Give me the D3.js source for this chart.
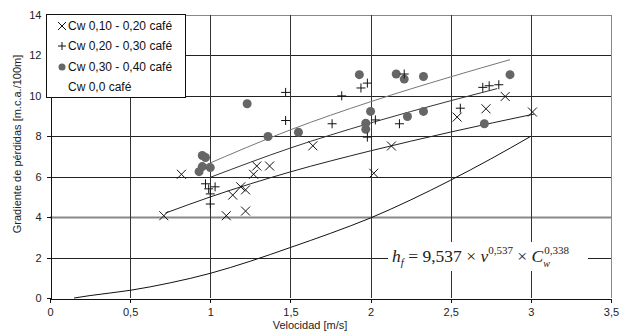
<!DOCTYPE html>
<html>
<head>
<meta charset="utf-8">
<script src="https://cdn.jsdelivr.net/npm/d3@7"></script>
<style>
body { margin: 0; background: #fff; }
svg { font-family: "Liberation Sans", Arial, sans-serif; }
.formula text { font-family: "Liberation Serif", "Times New Roman", serif; }
</style>
</head>
<body>
<div id="chart"></div>
<script>
// data
var cw1_v = [0.71, 0.82, 1.10, 1.14, 1.19, 1.22, 1.22, 1.27, 1.29, 1.37, 1.64, 2.02, 2.13, 2.54, 2.72, 2.84, 3.01];
var cw1_h = [4.07, 6.12, 4.07, 5.09, 5.50, 5.35, 4.30, 6.12, 6.53, 6.53, 7.53, 6.17, 7.52, 8.95, 9.36, 9.97, 9.20];

var cw2_v = [0.97, 0.99, 1.03, 1.00, 1.00, 1.47, 1.47, 1.76, 1.82, 1.94, 1.98, 2.03, 1.98, 2.18, 2.21, 2.56, 2.70, 2.74, 2.80];
var cw2_h = [5.65, 5.40, 5.50, 5.15, 4.65, 10.17, 8.78, 8.62, 10.00, 10.39, 10.63, 8.81, 7.96, 8.62, 11.08, 9.39, 10.42, 10.50, 10.55];

var cw3_v = [0.95, 0.97, 0.95, 0.93, 1.00, 1.23, 1.36, 1.55, 1.93, 2.00, 1.97, 1.97, 2.16, 2.21, 2.33, 2.23, 2.33, 2.71, 2.87];
var cw3_h = [7.05, 6.95, 6.50, 6.25, 6.45, 9.61, 7.99, 8.20, 11.05, 9.23, 8.65, 8.35, 11.08, 10.83, 10.96, 8.98, 9.23, 8.62, 11.05];

// fitted curves
var fit1_v = [0.72, 1.0, 1.5, 2.0, 2.5, 3.02];
var fit1_h = [4.2, 5.0, 6.24, 7.28, 8.21, 9.1];
var fit2_v = [1.0, 1.5, 2.0, 2.5, 2.79];
var fit2_h = [5.97, 7.42, 8.66, 9.76, 10.36];
var fit3_v = [0.95, 1.5, 2.0, 2.5, 2.87];
var fit3_h = [6.51, 8.32, 9.71, 10.94, 11.79];
var water_v = [0.15, 0.25, 0.5, 0.75, 1.0, 1.25, 1.5, 1.75, 2.0, 2.25, 2.5, 2.75, 3.0];
var water_h = [0, 0.12, 0.38, 0.75, 1.22, 1.82, 2.5, 3.2, 3.96, 4.85, 5.83, 6.88, 8.0];

var x_ticks = [0, 0.5, 1, 1.5, 2, 2.5, 3, 3.5];
var y_ticks = [0, 2, 4, 6, 8, 10, 12, 14];
var legend_labels = ["Cw 0,10 - 0,20 café", "Cw 0,20 - 0,30 café", "Cw 0,30 - 0,40  café", "Cw 0,0 café"];

var width = 628, height = 332;
var plot_left = 50, plot_right = 611, plot_top = 15, plot_bottom = 298;

var svg = d3.select("#chart").append("svg")
	.attr("width", width)
	.attr("height", height);

var x = d3.scaleLinear().domain([0, 3.5]).range([plot_left, plot_right]);
var y = d3.scaleLinear().domain([0, 14]).range([plot_bottom, plot_top]);

var fmt = function(d){ return String(d).replace(".", ","); };

// gridlines
svg.append("g").selectAll("line")
	.data(y_ticks.slice(1))
	.enter().append("line")
	.attr("x1", plot_left).attr("x2", plot_right)
	.attr("y1", function(d){ return Math.round(y(d)) + 0.5; })
	.attr("y2", function(d){ return Math.round(y(d)) + 0.5; })
	.attr("stroke", function(d){ return (d == 4 || d == 14) ? "#888" : "#222"; })
	.attr("stroke-width", function(d){ return d == 4 ? 2 : 1; });

svg.append("g").selectAll("line")
	.data(x_ticks.slice(1))
	.enter().append("line")
	.attr("y1", plot_top).attr("y2", plot_bottom)
	.attr("x1", function(d){ return Math.round(x(d)) + 0.5; })
	.attr("x2", function(d){ return Math.round(x(d)) + 0.5; })
	.attr("stroke", function(d){ return d == 3.5 ? "#888" : "#333"; })
	.attr("stroke-width", 1);

// axes
var xAxis = svg.append("g")
	.attr("transform", "translate(0," + (Math.round(plot_bottom) + 0.5) + ")")
	.call(d3.axisBottom(x).tickValues(x_ticks).tickFormat(fmt).tickSize(4).tickPadding(6));
var yAxis = svg.append("g")
	.attr("transform", "translate(" + (plot_left + 0.5) + ",0)")
	.call(d3.axisLeft(y).tickValues(y_ticks).tickFormat(fmt).tickSize(4).tickPadding(5));
[xAxis, yAxis].forEach(function(a){
	a.attr("font-family", null);
	a.selectAll("text").attr("font-size", 11).attr("fill", "#222");
	a.selectAll(".domain, line").attr("stroke", "#111").attr("shape-rendering", "crispEdges");
});

svg.append("text")
	.attr("x", 310).attr("y", 329)
	.attr("text-anchor", "middle")
	.attr("font-size", 11).attr("fill", "#222")
	.text("Velocidad [m/s]");

svg.append("text")
	.attr("transform", "translate(21,144) rotate(-90)")
	.attr("text-anchor", "middle")
	.attr("font-size", 11).attr("fill", "#222")
	.text("Gradiente de pérdidas [m.c.a./100m]");

// curves
var line = d3.line()
	.x(function(d){ return x(d[0]); })
	.y(function(d){ return y(d[1]); })
	.curve(d3.curveMonotoneX);

function drawLine(vs, hs, colour){
	svg.append("path")
		.datum(d3.zip(vs, hs))
		.attr("d", line)
		.attr("fill", "none")
		.attr("stroke", colour)
		.attr("stroke-width", 1);
}
drawLine(water_v, water_h, "#111");
drawLine(fit1_v, fit1_h, "#222");
drawLine(fit2_v, fit2_h, "#333");
drawLine(fit3_v, fit3_h, "#777");

// markers
var s = 4.5;
function crossPath(px, py){
	return "M" + (px - s) + "," + (py - s) + "L" + (px + s) + "," + (py + s) +
		"M" + (px - s) + "," + (py + s) + "L" + (px + s) + "," + (py - s);
}
function plusPath(px, py){
	return "M" + (px - s) + "," + py + "L" + (px + s) + "," + py +
		"M" + px + "," + (py - s) + "L" + px + "," + (py + s);
}

svg.append("g").selectAll("circle")
	.data(d3.zip(cw3_v, cw3_h))
	.enter().append("circle")
	.attr("cx", function(d){ return x(d[0]); })
	.attr("cy", function(d){ return y(d[1]); })
	.attr("r", 4.5)
	.attr("fill", "#666");

svg.append("g").selectAll("path")
	.data(d3.zip(cw2_v, cw2_h))
	.enter().append("path")
	.attr("d", function(d){ return plusPath(x(d[0]), y(d[1])); })
	.attr("stroke", "#111").attr("stroke-width", 1).attr("fill", "none");

svg.append("g").selectAll("path")
	.data(d3.zip(cw1_v, cw1_h))
	.enter().append("path")
	.attr("d", function(d){ return crossPath(x(d[0]), y(d[1])); })
	.attr("stroke", "#111").attr("stroke-width", 1).attr("fill", "none");

// legend
var legend = svg.append("g");
legend.append("rect")
	.attr("x", 46.5).attr("y", 14.5).attr("width", 139).attr("height", 83)
	.attr("fill", "#fff").attr("stroke", "#111");
var ly = [26, 46, 67, 87];
legend.selectAll("text")
	.data(legend_labels)
	.enter().append("text")
	.attr("x", 68).attr("y", function(d, i){ return ly[i] + 4; })
	.attr("font-size", 12).attr("fill", "#111")
	.text(function(d){ return d; });
var ms = 4;
legend.append("path")
	.attr("d", "M" + (62 - ms) + "," + (ly[0] - ms) + "L" + (62 + ms) + "," + (ly[0] + ms) +
		"M" + (62 - ms) + "," + (ly[0] + ms) + "L" + (62 + ms) + "," + (ly[0] - ms))
	.attr("stroke", "#111").attr("fill", "none");
legend.append("path")
	.attr("d", "M" + (62 - ms) + "," + ly[1] + "L" + (62 + ms) + "," + ly[1] +
		"M62," + (ly[1] - ms) + "L62," + (ly[1] + ms))
	.attr("stroke", "#111").attr("fill", "none");
legend.append("circle")
	.attr("cx", 62).attr("cy", ly[2]).attr("r", 3.5).attr("fill", "#666");

// formula
var fx = 392, fy = 262;
var formula = svg.append("g")
	.attr("class", "formula")
	.attr("fill", "#222");
formula.append("rect")
	.attr("x", 388).attr("y", 242).attr("width", 200).attr("height", 29)
	.attr("fill", "#fff");
var t = formula.append("text")
	.attr("x", fx).attr("y", fy)
	.attr("font-size", 17.5);
t.append("tspan").attr("font-style", "italic").text("h");
t.append("tspan").attr("font-style", "italic").attr("font-size", 11).attr("dy", 4).text("f");
t.append("tspan").attr("dy", -4).text(" = 9,537 \u00d7 ");
t.append("tspan").attr("font-style", "italic").text("v");
t.append("tspan").attr("font-size", 11).attr("dy", -8).text("0,537");
t.append("tspan").attr("dy", 8).text(" \u00d7 ");
t.append("tspan").attr("font-style", "italic").text("C");
var tb = t.node().getComputedTextLength();
formula.append("text")
	.attr("x", fx + tb + 1).attr("y", fy - 8)
	.attr("font-size", 11)
	.text("0,338");
formula.append("text")
	.attr("x", fx + tb).attr("y", fy + 5)
	.attr("font-size", 10).attr("font-style", "italic")
	.text("w");
</script>
</body>
</html>
